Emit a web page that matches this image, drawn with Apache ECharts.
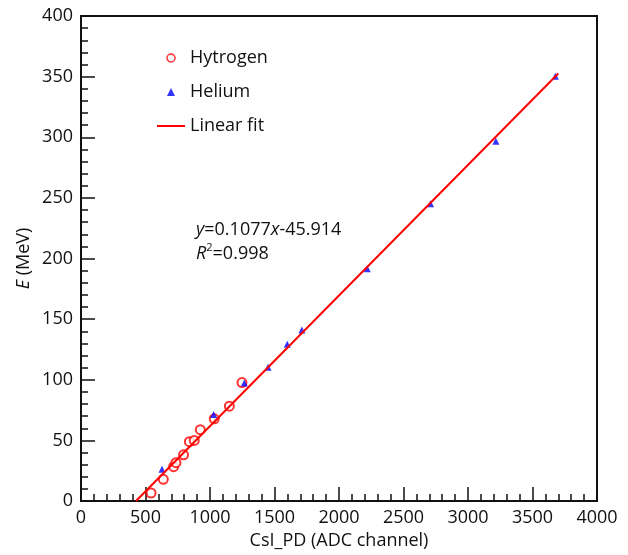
<!DOCTYPE html>
<html>
<head>
<meta charset="utf-8">
<script src="https://cdn.jsdelivr.net/npm/echarts@6/dist/echarts.min.js"></script>
<style>
  html, body { margin: 0; padding: 0; background: #fff; }
  #chart { width: 628px; height: 555px; }
</style>
</head>
<body>
<div id="chart"></div>
<script>
// hydrogen points (ADC channel, MeV)
const hydrogenX = [543, 638, 718, 736, 795, 840, 878, 925, 1033, 1150, 1248]
const hydrogenY = [6.6, 17.9, 28.3, 31.6, 38.1, 48.9, 50.0, 58.8, 67.8, 78.2, 97.7]
// helium points
const heliumX = [628, 1028, 1266, 1450, 1599, 1712, 2219, 2710, 3216, 3677]
const heliumY = [26.1, 71.4, 97.4, 110.4, 129.2, 141.1, 191.5, 245.2, 296.7, 350.4]
// linear fit
const fitSlope = 0.1077
const fitIntercept = -45.914
const fitRange = [426.3, 3700]

const FONT = 'Open Sans'

const pairs = (xs, ys) => xs.map((x, i) => [x, ys[i]])
const fitData = fitRange.map(x => [x, fitSlope * x + fitIntercept])

const chart = echarts.init(document.getElementById('chart'))

chart.setOption({
  animation: false,
  grid: {
    left: 81, top: 16, width: 516, height: 486,
    show: true, borderColor: '#111', borderWidth: 2
  },
  legend: {
    orient: 'vertical',
    left: 157,
    top: 48,
    padding: 0,
    itemWidth: 28,
    itemHeight: 8,
    itemGap: 14,
    symbolKeepAspect: true,
    textStyle: {fontFamily: FONT, fontSize: 18, color: '#111', lineHeight: 20},
    data: [
      {name: 'Hytrogen', icon: 'path://M5,0A5,5 0 1 1 4.99,0Z', itemStyle: {color: 'none', borderColor: '#f00', borderWidth: 1.5}},
      {name: 'Helium', icon: 'path://M0,10L5,0L10,10Z', itemStyle: {color: '#00f'}},
      {name: 'Linear fit', icon: 'path://M0,0h28v2h-28z', itemStyle: {color: '#f00'}}
    ]
  },
  xAxis: {
    type: 'value',
    min: 0, max: 4000, interval: 500,
    name: 'CsI_PD (ADC channel)',
    nameLocation: 'middle',
    nameGap: 31,
    nameTextStyle: {fontFamily: FONT, fontSize: 18, color: '#111'},
    axisLine: {lineStyle: {color: '#111', width: 2}},
    axisTick: {inside: true, length: 14, lineStyle: {color: '#111', width: 1.5}},
    minorTick: {show: true, splitNumber: 5, length: 7, lineStyle: {color: '#111', width: 1.5}},
    axisLabel: {fontFamily: FONT, fontSize: 18, color: '#111', margin: 8, formatter: v => String(v)},
    splitLine: {show: false}
  },
  yAxis: {
    type: 'value',
    min: 0, max: 400, interval: 50,
    name: '{i|E} (MeV)',
    nameLocation: 'middle',
    nameGap: 48,
    nameMoveOverlap: false,
    nameTextStyle: {
      fontFamily: FONT, fontSize: 18, color: '#111',
      rich: {i: {fontStyle: 'italic', fontFamily: FONT, fontSize: 18, color: '#111'}}
    },
    axisLine: {lineStyle: {color: '#111', width: 2}},
    axisTick: {inside: true, length: 14, lineStyle: {color: '#111', width: 1.5}},
    minorTick: {show: true, splitNumber: 5, length: 7, lineStyle: {color: '#111', width: 1.5}},
    axisLabel: {fontFamily: FONT, fontSize: 18, color: '#111', margin: 8},
    splitLine: {show: false}
  },
  series: [
    {
      name: 'Hytrogen',
      type: 'scatter',
      symbol: 'emptyCircle',
      symbolSize: 9,
      itemStyle: {color: '#f00', borderWidth: 1.5},
      data: pairs(hydrogenX, hydrogenY),
      z: 3
    },
    {
      name: 'Helium',
      type: 'scatter',
      symbol: 'triangle',
      symbolSize: 7,
      itemStyle: {color: '#00f'},
      data: pairs(heliumX, heliumY),
      z: 3
    },
    {
      name: 'Linear fit',
      type: 'line',
      symbol: 'none',
      lineStyle: {color: '#f00', width: 2},
      itemStyle: {color: '#f00'},
      data: fitData,
      z: 4
    }
  ],
  graphic: [
    {
      type: 'text',
      left: 196,
      top: 218,
      style: {
        text: '{i|y}=0.1077{i|x}-45.914\n{i|R}{s|2}=0.998',
        fontFamily: FONT, fontSize: 18, fill: '#111', lineHeight: 24,
        rich: {
          i: {fontStyle: 'italic', fontFamily: FONT, fontSize: 18, lineHeight: 24},
          s: {fontFamily: FONT, fontSize: 11, lineHeight: 24, verticalAlign: 'top'}
        }
      }
    }
  ]
})
</script>
</body>
</html>
